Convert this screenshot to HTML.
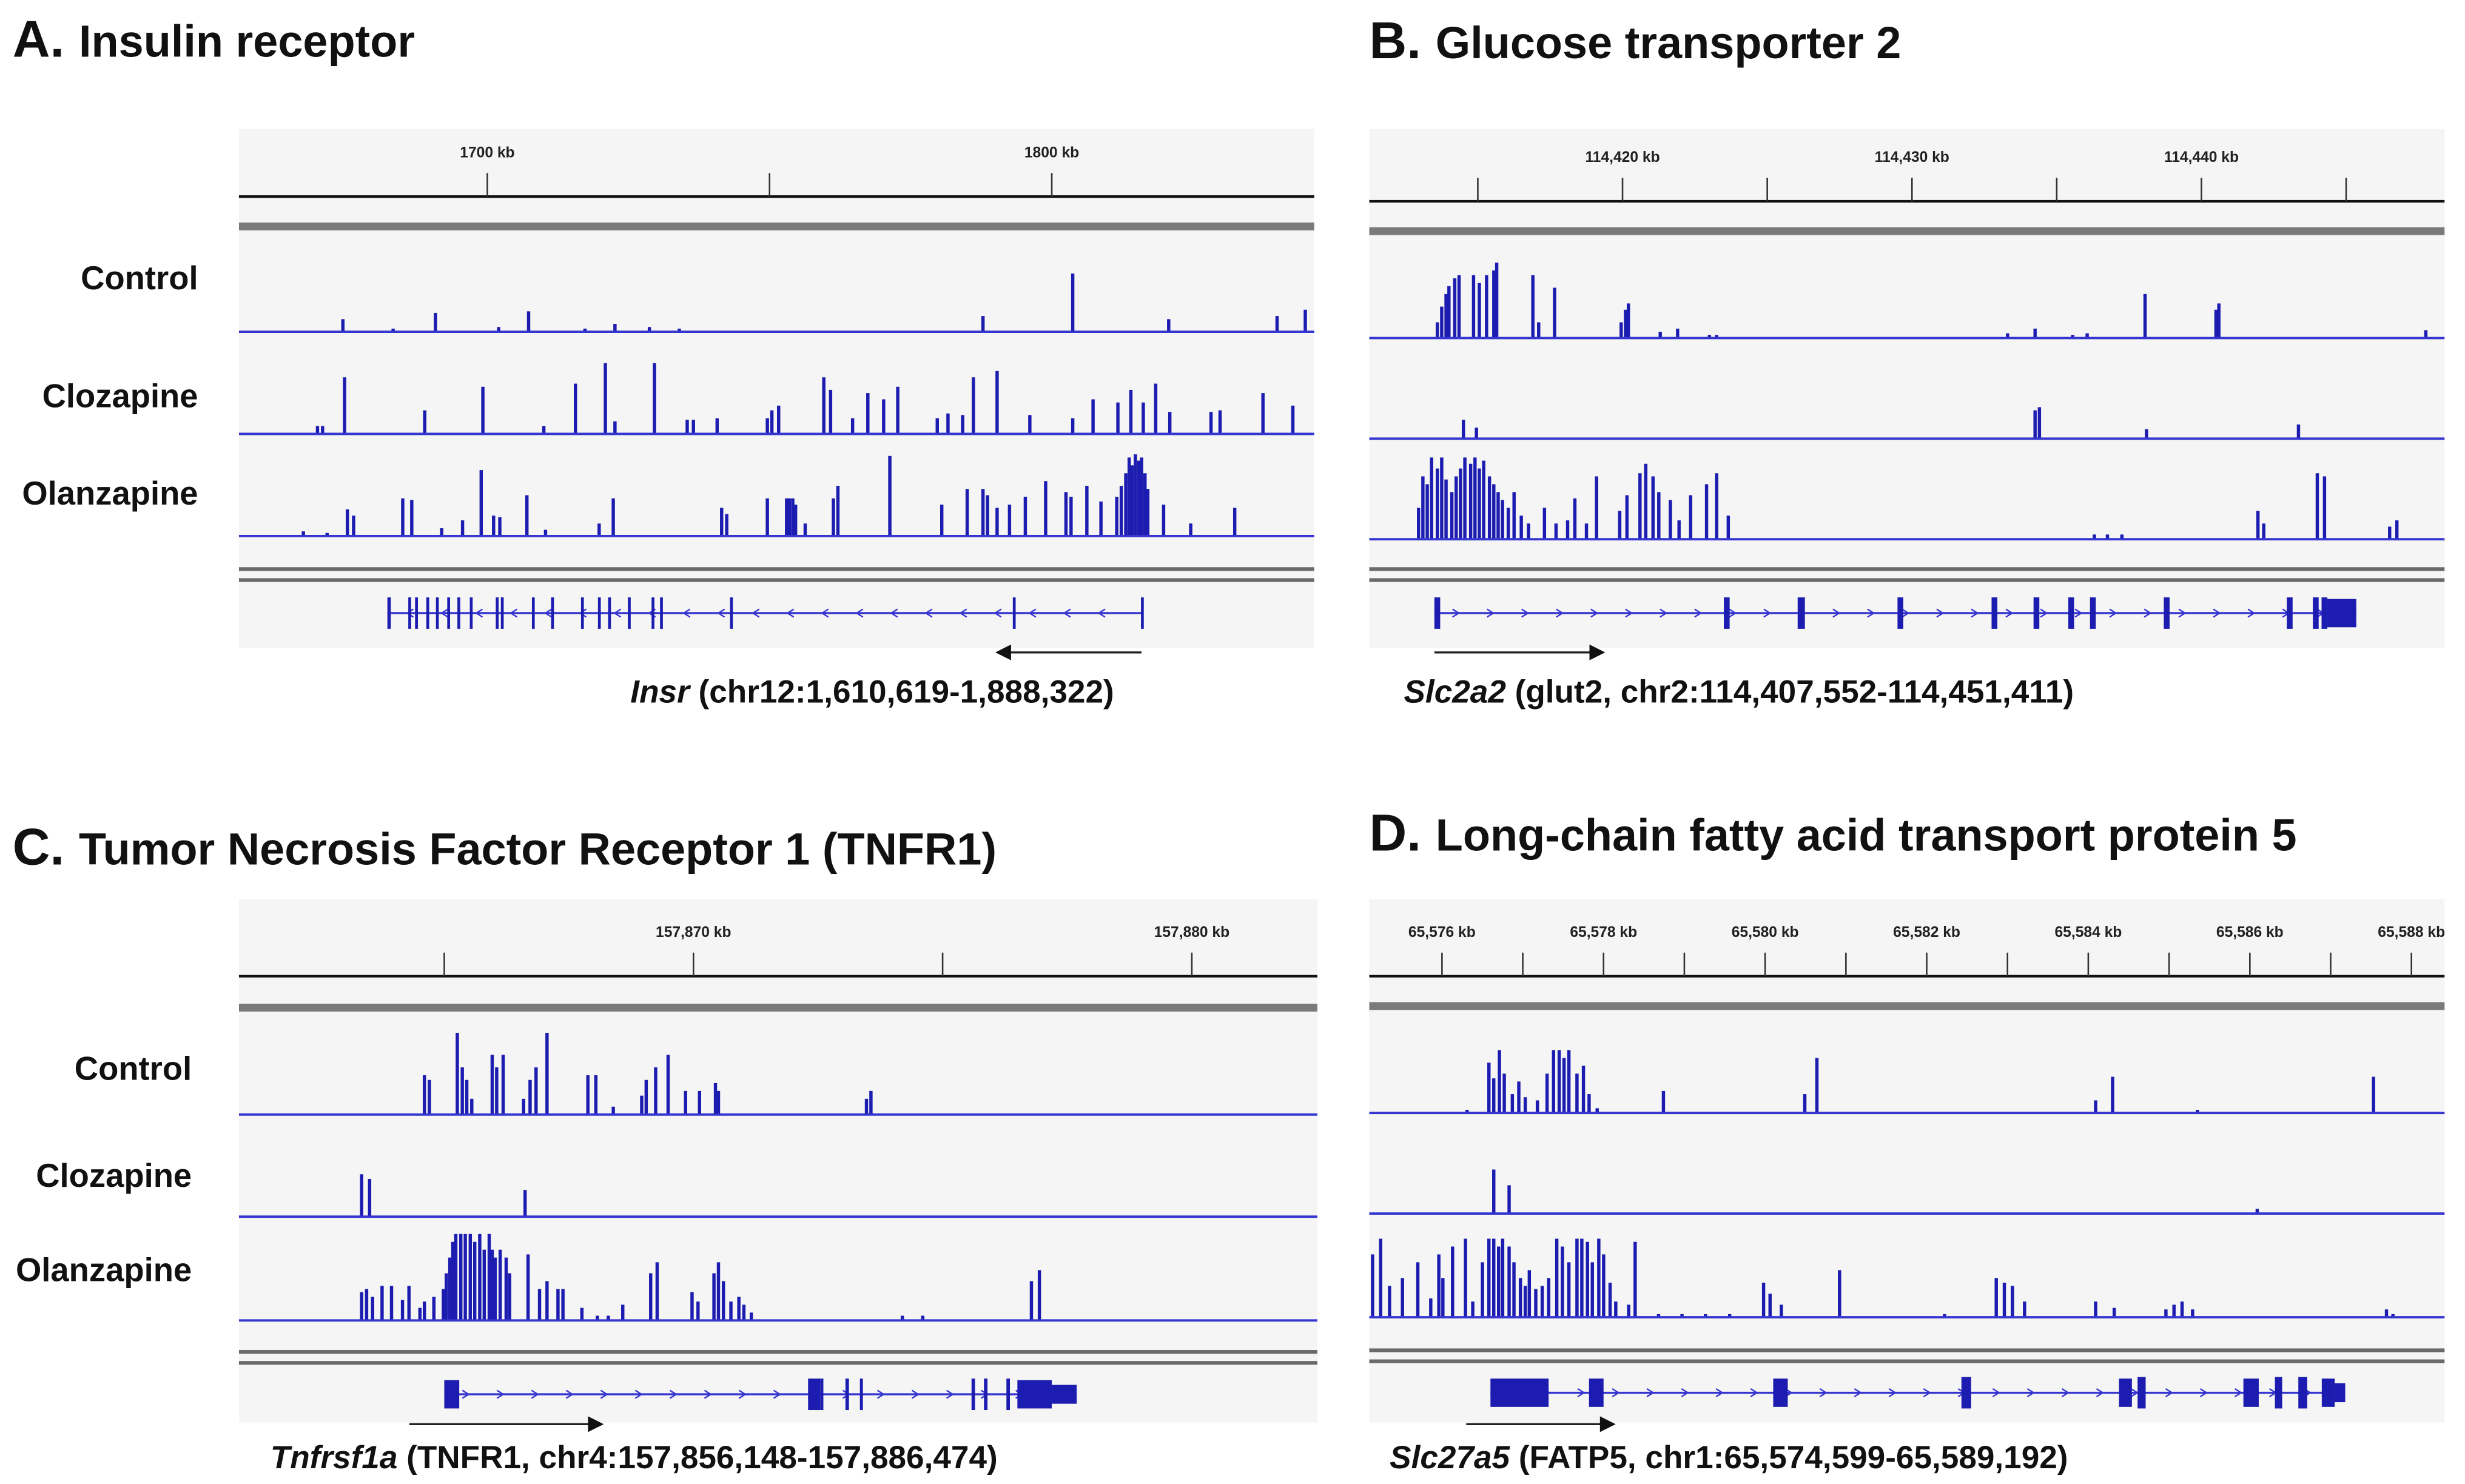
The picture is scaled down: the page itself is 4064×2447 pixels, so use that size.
<!DOCTYPE html>
<html><head><meta charset="utf-8">
<style>
html,body{margin:0;padding:0;background:#fff;}
svg{display:block;}
text{font-family:"Liberation Sans",Arial,sans-serif;}
</style></head>
<body>
<svg id="fig" xmlns="http://www.w3.org/2000/svg" width="4064" height="2447" viewBox="0 0 1568 944"></svg>
<script>
// ---------- DATA (genomic positions in kb, coverage values) ----------
const aTicksMajor=[1700,1800];
const aTicksMinor=[1750];
const aControl=[[1674.4,8],[1683.3,2],[1690.8,12],[1702.0,3],[1707.3,13],[1717.3,2],[1722.6,5],[1728.7,3],[1734.0,2],[1787.8,10],[1803.7,37],[1820.7,8],[1839.9,10],[1844.9,14]];
const aClozapine=[[1669.9,5],[1670.8,5],[1674.7,36],[1688.9,15],[1699.2,30],[1710.0,5],[1715.6,32],[1720.9,45],[1722.6,8],[1729.6,45],[1735.4,9],[1736.5,9],[1740.7,10],[1749.6,10],[1750.4,15],[1751.6,18],[1759.6,36],[1760.8,28],[1764.7,10],[1767.4,26],[1770.2,22],[1772.7,30],[1779.7,10],[1781.6,13],[1784.2,12],[1786.1,36],[1790.3,40],[1796.1,12],[1803.7,10],[1807.3,22],[1811.7,20],[1814.0,28],[1816.2,20],[1818.4,32],[1820.9,14],[1828.2,14],[1829.8,15],[1837.4,26],[1842.7,18]];
const aOlanzapine=[[1667.4,3],[1671.6,2],[1675.2,17],[1676.3,13],[1685.0,24],[1686.6,23],[1691.9,5],[1695.6,10],[1698.9,42],[1701.1,13],[1702.2,12],[1707.0,26],[1710.3,4],[1719.8,8],[1722.3,24],[1741.5,18],[1742.4,14],[1749.6,24],[1753.0,24],[1753.5,24],[1754.1,24],[1754.6,20],[1756.3,8],[1761.3,24],[1762.1,32],[1771.3,51],[1780.5,20],[1785.0,30],[1787.8,30],[1788.6,26],[1790.3,18],[1792.5,20],[1795.3,25],[1798.9,35],[1802.5,28],[1803.4,25],[1806.2,32],[1808.7,22],[1811.5,25],[1812.3,32],[1813.1,40],[1813.7,50],[1814.2,45],[1814.8,52],[1815.4,48],[1815.9,50],[1816.5,40],[1817.0,30],[1819.8,20],[1824.6,8],[1832.4,18]];
const aExons=[[1682.3,1682.9],[1686.0,1686.3],[1687.2,1687.5],[1689.2,1689.5],[1690.9,1691.2],[1692.9,1693.2],[1694.7,1695.0],[1696.9,1697.2],[1701.5,1701.8],[1702.4,1702.7],[1707.9,1708.2],[1711.3,1711.6],[1716.6,1716.9],[1719.6,1719.9],[1721.4,1721.7],[1724.9,1725.2],[1729.1,1729.4],[1730.6,1730.9],[1743.0,1743.3],[1793.1,1793.5],[1815.8,1816.1]];

const bTicksMajor=[114420,114430,114440];
const bTicksMinor=[114415,114425,114435,114445];
const bControl=[[114413.6,10],[114413.75,20],[114413.9,28],[114414.0,33],[114414.2,38],[114414.35,40],[114414.85,40],[114415.05,35],[114415.3,40],[114415.55,43],[114415.65,48],[114416.9,40],[114417.1,10],[114417.65,32],[114419.95,10],[114420.1,18],[114420.2,22],[114421.3,4],[114421.9,6],[114423.0,2],[114423.25,2],[114433.3,3],[114434.25,6],[114435.55,2],[114436.05,3],[114438.05,28],[114440.5,18],[114440.6,22],[114447.75,5]];
const bClozapine=[[114414.5,12],[114414.95,7],[114434.25,18],[114434.4,20],[114438.1,6],[114443.35,9]];
const bOlanzapine=[[114412.95,20],[114413.1,40],[114413.25,35],[114413.4,52],[114413.6,45],[114413.75,52],[114413.9,38],[114414.1,30],[114414.25,40],[114414.4,45],[114414.55,52],[114414.75,48],[114414.9,52],[114415.05,45],[114415.2,50],[114415.4,40],[114415.55,35],[114415.7,30],[114415.85,25],[114416.05,20],[114416.25,30],[114416.5,15],[114416.75,10],[114417.3,20],[114417.7,10],[114418.1,12],[114418.35,26],[114418.75,10],[114419.1,40],[114419.9,18],[114420.15,28],[114420.6,42],[114420.8,48],[114421.05,40],[114421.25,30],[114421.65,25],[114421.95,12],[114422.35,28],[114422.9,35],[114423.25,42],[114423.65,15],[114436.3,3],[114436.75,3],[114437.25,3],[114441.95,18],[114442.15,10],[114444.0,42],[114444.25,40],[114446.5,8],[114446.75,12]];
const bExons=[[114413.5,114413.7],[114423.5,114423.7],[114426.05,114426.3],[114429.5,114429.7],[114432.75,114432.95],[114434.2,114434.4],[114435.4,114435.6],[114436.15,114436.35],[114438.7,114438.9],[114442.95,114443.15],[114443.85,114444.05],[114444.15,114444.35],[114444.35,114445.35]];

const cTicksMajor=[157870,157880];
const cTicksMinor=[157865,157875];
const cControl=[[157864.6,25],[157864.7,22],[157865.26,52],[157865.36,30],[157865.45,22],[157865.55,10],[157865.96,38],[157866.05,30],[157866.18,38],[157866.59,10],[157866.72,22],[157866.84,30],[157867.06,52],[157867.88,25],[157868.04,25],[157868.39,5],[157868.96,12],[157869.05,22],[157869.24,30],[157869.49,38],[157869.84,15],[157870.12,15],[157870.44,20],[157870.5,15],[157873.47,10],[157873.56,15]];
const cClozapine=[[157863.34,27],[157863.5,24],[157866.62,17]];
const cOlanzapine=[[157863.34,18],[157863.44,20],[157863.56,15],[157863.75,22],[157863.94,22],[157864.16,13],[157864.29,22],[157864.51,8],[157864.6,12],[157864.79,15],[157864.98,20],[157865.04,30],[157865.11,40],[157865.17,50],[157865.23,55],[157865.33,55],[157865.42,55],[157865.52,55],[157865.61,50],[157865.71,55],[157865.8,45],[157865.9,55],[157865.96,45],[157866.02,40],[157866.12,45],[157866.24,40],[157866.31,30],[157866.68,42],[157866.91,20],[157867.06,25],[157867.28,20],[157867.38,20],[157867.76,8],[157868.07,3],[157868.29,3],[157868.58,10],[157869.14,30],[157869.27,37],[157869.97,18],[157870.09,12],[157870.41,30],[157870.5,37],[157870.6,25],[157870.75,12],[157870.91,15],[157871.01,10],[157871.16,5],[157874.19,3],[157874.6,3],[157876.78,25],[157876.94,32]];
const cExons=[[157865.0,157865.3],[157872.3,157872.55],[157872.55,157872.6],[157873.05,157873.12],[157873.34,157873.4],[157875.58,157875.65],[157875.83,157875.9],[157876.28,157876.35],[157876.5,157877.19],[157877.19,157877.69,1]];

const dTicksMajor=[65576,65578,65580,65582,65584,65586,65588];
const dTicksMinor=[65577,65579,65581,65583,65585,65587];
const dControl=[[65576.31,2],[65576.58,32],[65576.64,22],[65576.71,40],[65576.77,25],[65576.87,12],[65576.95,20],[65577.03,10],[65577.18,8],[65577.3,25],[65577.38,40],[65577.45,40],[65577.51,35],[65577.57,40],[65577.67,25],[65577.75,30],[65577.82,12],[65577.92,3],[65578.74,14],[65580.49,12],[65580.64,35],[65584.09,8],[65584.3,23],[65585.35,2],[65587.53,23]];
const dClozapine=[[65576.64,28],[65576.83,18],[65586.09,3]];
const dOlanzapine=[[65575.14,40],[65575.24,50],[65575.35,20],[65575.51,25],[65575.7,35],[65575.86,12],[65575.96,40],[65576.01,25],[65576.13,45],[65576.29,50],[65576.38,10],[65576.5,35],[65576.58,50],[65576.64,50],[65576.7,45],[65576.75,50],[65576.83,45],[65576.89,35],[65576.97,25],[65577.03,20],[65577.08,30],[65577.16,18],[65577.24,20],[65577.32,25],[65577.42,50],[65577.49,45],[65577.57,35],[65577.67,50],[65577.73,50],[65577.8,48],[65577.86,35],[65577.94,50],[65578.0,40],[65578.08,22],[65578.15,10],[65578.31,8],[65578.39,48],[65578.68,2],[65578.97,2],[65579.26,2],[65579.56,2],[65579.98,22],[65580.06,15],[65580.2,8],[65580.92,30],[65582.22,2],[65582.86,25],[65582.96,22],[65583.06,20],[65583.21,10],[65584.09,10],[65584.32,6],[65584.96,5],[65585.06,8],[65585.16,10],[65585.29,5],[65587.69,5],[65587.77,2]];
const dExons=[[65576.6,65577.32],[65577.82,65578.0],[65580.1,65580.28],[65582.43,65582.55],[65584.38,65584.54],[65584.61,65584.71],[65585.92,65586.11],[65586.31,65586.4],[65586.6,65586.71],[65586.89,65587.05],[65587.05,65587.18,1]];

// ---------- LAYOUT ----------
const NS="http://www.w3.org/2000/svg";
const svg=document.getElementById('fig');
const BLUE="#1c1cb0", BASE="#3535d0";
function el(tag,attrs,parent,text){const e=document.createElementNS(NS,tag);for(const k in attrs)e.setAttribute(k,attrs[k]);if(text!==undefined)e.textContent=text;(parent||svg).appendChild(e);return e;}

const panels=[
 {id:'a',letter:'A.',title:'Insulin receptor',tx:8,ty:36,x0:152,x1:836,d0:1656,d1:1846.5,top:82,bot:412,ruler:125,gray:144,base:[211,276,341],dbl:[362,369],gy:390,ay:415,cy:447,cx:401,gene:'Insr',cap:' (chr12:1,610,619-1,888,322)',labels:true,ly:[184,259,321],lx:126,
  tM:aTicksMajor,tm:aTicksMinor,tr:[aControl,aClozapine,aOlanzapine],ex:aExons,strand:-1,fmt:v=>v+' kb',arrow:[1815.9,1790]},
 {id:'b',letter:'B.',title:'Glucose transporter 2',tx:871,ty:37,x0:871,x1:1555,d0:114411.25,d1:114448.4,top:82,bot:412,ruler:128,gray:147,base:[215,279,343],dbl:[362,369],gy:390,ay:415,cy:447,cx:893,gene:'Slc2a2',cap:' (glut2, chr2:114,407,552-114,451,411)',labels:false,
  tM:bTicksMajor,tm:bTicksMinor,tr:[bControl,bClozapine,bOlanzapine],ex:bExons,strand:1,fmt:v=>v.toLocaleString('en-US')+' kb',arrow:[114413.5,114419.4]},
 {id:'c',letter:'C.',title:'Tumor Necrosis Factor Receptor 1 (TNFR1)',tx:8,ty:550,x0:152,x1:838,d0:157860.88,d1:157882.52,top:572,bot:905,ruler:621,gray:641,base:[709,774,840],dbl:[860,867],gy:887,ay:906,cy:934,cx:172,gene:'Tnfrsf1a',cap:' (TNFR1, chr4:157,856,148-157,886,474)',labels:true,ly:[687,755,815],lx:122,
  tM:cTicksMajor,tm:cTicksMinor,tr:[cControl,cClozapine,cOlanzapine],ex:cExons,strand:1,fmt:v=>v.toLocaleString('en-US')+' kb',arrow:[157864.3,157868.2]},
 {id:'d',letter:'D.',title:'Long-chain fatty acid transport protein 5',tx:871,ty:541,x0:871,x1:1555,d0:65575.1,d1:65588.41,top:572,bot:905,ruler:621,gray:640,base:[708,772,838],dbl:[859,866],gy:886,ay:906,cy:934,cx:884,gene:'Slc27a5',cap:' (FATP5, chr1:65,574,599-65,589,192)',labels:false,
  tM:dTicksMajor,tm:dTicksMinor,tr:[dControl,dClozapine,dOlanzapine],ex:dExons,strand:1,fmt:v=>v.toLocaleString('en-US')+' kb',arrow:[65576.3,65578.15]}
];
const trackNames=['control','clozapine','olanzapine'];
const trackLabels=['Control','Clozapine','Olanzapine'];

panels.forEach(p=>{
 const g=el('g',{});
 
 
 const X=kb=>p.x0+(kb-p.d0)/(p.d1-p.d0)*(p.x1-p.x0);
 const t=el('text',{x:p.tx,y:p.ty,'font-size':33,'font-weight':'bold',fill:'#111'},g);
 
 
 el('tspan',{},t,p.letter+' ');
 el('tspan',{'font-size':28.5},t,p.title);
 const bg=el('rect',{x:p.x0,y:p.top,width:p.x1-p.x0,height:p.bot-p.top,fill:'#f5f5f5'},g);
 
 
 const rl=el('line',{x1:p.x0,x2:p.x1,y1:p.ruler,y2:p.ruler,stroke:'#111','stroke-width':1.6},g);
 
 
 p.tM.concat(p.tm).forEach(v=>{
  const tk=el('line',{x1:X(v),x2:X(v),y1:p.ruler-15,y2:p.ruler,stroke:'#333','stroke-width':1},g);
  
  
 });
 p.tM.forEach(v=>{
  const tl=el('text',{x:X(v),y:p.ruler-25,'font-size':9.5,'text-anchor':'middle',fill:'#222','font-weight':'bold'},g,p.fmt(v));
  
  
 });
 const gb=el('rect',{x:p.x0,y:p.gray-2.5,width:p.x1-p.x0,height:5,fill:'#7a7a7a'},g);
 
 
 p.tr.forEach((arr,i)=>{
  const tg=el('g',{},g);
  
  
  const b=p.base[i];
  arr.forEach(([pos,val])=>{
   const r=el('rect',{x:X(pos)-1,y:b-val,width:2.1,height:val,fill:BLUE},tg);
   
   
  });
  const bl=el('line',{x1:p.x0,x2:p.x1,y1:b,y2:b,stroke:BASE,'stroke-width':1.5},tg);
  
  
  if(p.labels){
   const lb=el('text',{x:p.lx,y:p.ly[i],'font-size':21,'font-weight':'bold','text-anchor':'end',fill:'#111'},g,trackLabels[i]);
   
   
  }
 });
 p.dbl.forEach(y=>{
  const dl=el('rect',{x:p.x0,y:y-1.2,width:p.x1-p.x0,height:2.4,fill:'#6a6a6a'},g);
  
  
 });
 const gg=el('g',{},g);
 
 
 const gs=X(p.ex[0][0]), ge=X(p.ex[p.ex.length-1][1]);
 el('line',{x1:gs,x2:ge,y1:p.gy,y2:p.gy,stroke:BASE,'stroke-width':1.3},gg);
 for(let x=gs+14;x<ge-6;x+=22){
  const s=p.strand;
  el('path',{d:`M${x-2.5*s},${p.gy-2.5} L${x+1.5*s},${p.gy} L${x-2.5*s},${p.gy+2.5}`,fill:'none',stroke:BASE,'stroke-width':0.9},gg);
 }
 p.ex.forEach(([s,e,utr])=>{
  const w=Math.max(1.8,X(e)-X(s));
  const h=utr?12:(w>8?18:20);
  const r=el('rect',{x:X(s),y:p.gy-h/2,width:w,height:h,fill:BLUE},gg);
  
  
 });
 const a0=X(p.arrow[0]), a1=X(p.arrow[1]), dir=Math.sign(a1-a0);
 const ag=el('g',{},g);
 
 
 el('line',{x1:a0,x2:a1-dir*8,y1:p.ay,y2:p.ay,stroke:'#222','stroke-width':1.3},ag);
 el('path',{d:`M${a1},${p.ay} L${a1-dir*10},${p.ay-5} L${a1-dir*10},${p.ay+5} Z`,fill:'#111'},ag);
 const cp=el('text',{x:p.cx,y:p.cy,'font-size':20.5,'font-weight':'bold',fill:'#111'},g);
 
 
 el('tspan',{'font-style':'italic'},cp,p.gene);
 el('tspan',{},cp,p.cap);
});
</script>
</body></html>
